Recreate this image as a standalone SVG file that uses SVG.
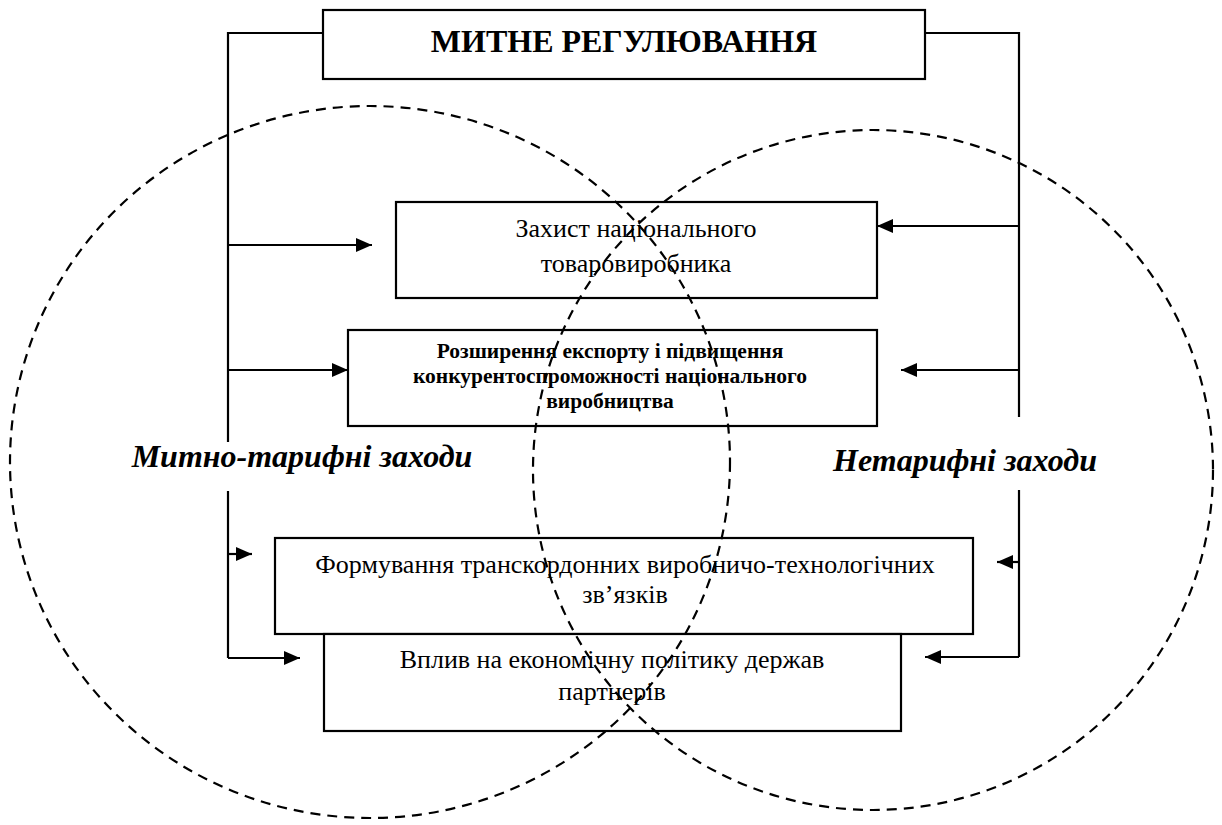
<svg xmlns="http://www.w3.org/2000/svg" width="1222" height="825" viewBox="0 0 1222 825">
<style>
.box{fill:#fff;stroke:#000;stroke-width:2.2}
.ln{fill:none;stroke:#000;stroke-width:2.2}
.arr{fill:none;stroke:#000;stroke-width:2.2;marker-end:url(#ah)}
.dash{fill:none;stroke:#000;stroke-width:2.2;stroke-dasharray:10 7}
.t{font-family:"Liberation Serif","Times New Roman","DejaVu Serif",serif;fill:#000;text-anchor:middle}
.reg{font-size:26px}
.bld{font-size:21.5px;font-weight:bold}
.ttl{font-size:32px;font-weight:bold}
.lbl{font-size:32px;font-weight:bold;font-style:italic}
</style>
<defs>
<marker id="ah" viewBox="0 0 16 14" refX="16" refY="7" markerWidth="16" markerHeight="14" markerUnits="userSpaceOnUse" orient="auto">
<path d="M0,0 L16,7 L0,14 Z" fill="#000"/>
</marker>
</defs>
<g id="n-title">
<rect class="box" x="323" y="10" width="602" height="69"/>
<text class="t ttl" x="624" y="52">МИТНЕ РЕГУЛЮВАННЯ</text>
</g>
<g id="n1">
<rect class="box" x="396" y="202" width="481" height="96"/>
<text class="t reg" x="636" y="237">Захист національного</text>
<text class="t reg" x="636" y="272">товаровиробника</text>
</g>
<g id="n2">
<rect class="box" x="348" y="330" width="529" height="96"/>
<text class="t bld" x="610" y="358">Розширення експорту і підвищення</text>
<text class="t bld" x="610" y="383">конкурентоспроможності національного</text>
<text class="t bld" x="610" y="408">виробництва</text>
</g>
<g id="n3">
<rect class="box" x="275" y="538" width="698" height="96"/>
<text class="t reg" x="625" y="573">Формування транскордонних виробничо-технологічних</text>
<text class="t reg" x="625" y="603">зв’язків</text>
</g>
<g id="n4">
<rect class="box" x="324" y="634" width="577" height="97"/>
<text class="t reg" x="612" y="668">Вплив на економічну політику держав</text>
<text class="t reg" x="612" y="700">партнерів</text>
</g>
<g id="connectors">
<polyline class="ln" points="323,33 228,33 228,442"/>
<polyline class="ln" points="228,491 228,658"/>
<polyline class="ln" points="925,33 1019,33 1019,417"/>
<polyline class="ln" points="1019,490 1019,657"/>
<line class="arr" x1="228" y1="245" x2="372" y2="245"/>
<line class="arr" x1="228" y1="370" x2="348" y2="370"/>
<line class="arr" x1="228" y1="554" x2="252" y2="554"/>
<line class="arr" x1="228" y1="658" x2="300" y2="658"/>
<line class="arr" x1="1019" y1="226" x2="877" y2="226"/>
<line class="arr" x1="1019" y1="370" x2="901" y2="370"/>
<line class="arr" x1="1019" y1="562" x2="997" y2="562"/>
<line class="arr" x1="1019" y1="657" x2="925" y2="657"/>
</g>
<g id="circles">
<ellipse class="dash" cx="370" cy="462" rx="360" ry="356"/>
<ellipse class="dash" cx="873" cy="470" rx="340" ry="340"/>
</g>
<g id="labels">
<text class="t lbl" x="302" y="467">Митно-тарифні заходи</text>
<text class="t lbl" x="965" y="471">Нетарифні заходи</text>
</g>
</svg>
